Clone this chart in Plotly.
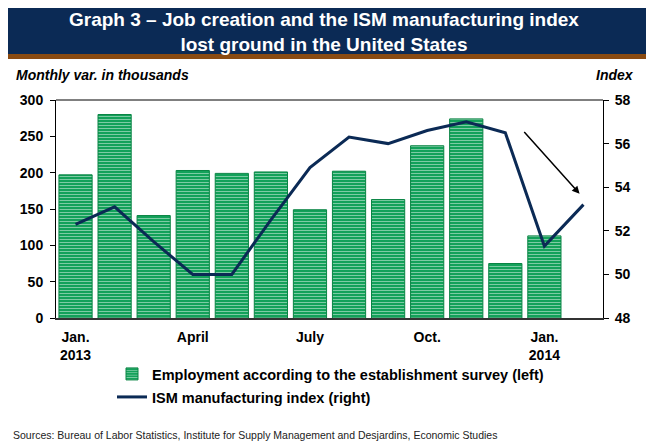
import plotly.graph_objects as go

# ---- data -------------------------------------------------------------
months = ["2013-01", "2013-02", "2013-03", "2013-04", "2013-05", "2013-06",
          "2013-07", "2013-08", "2013-09", "2013-10", "2013-11", "2013-12",
          "2014-01", "2014-02"]
# Nonfarm payroll change, thousands (establishment survey) - Jan 2013 to Jan 2014
employment = [197, 280, 141, 203, 199, 201, 149, 202, 163, 237, 274, 75, 113]
# ISM manufacturing index - Jan 2013 to Feb 2014
ism = [52.3, 53.1, 51.5, 50.0, 50.0, 52.5, 54.9, 56.3, 56.0, 56.6, 57.0, 56.5,
       51.3, 53.2]

tick_months = ["2013-01", "2013-04", "2013-07", "2013-10", "2014-01"]
tick_labels = ["Jan.<br>2013", "April", "July", "Oct.", "Jan.<br>2014"]

# ---- geometry helpers (pixel -> paper) ---------------------------------
W, H = 646, 442
L, R, T, B = 56, 603, 100, 318


def px_x(x):
    return (x - L) / (R - L)


def px_y(y):
    return (B - y) / (B - T)


FONT = "Arial, Liberation Sans, sans-serif"
NAVY = "#0b2a55"
GREEN = "#13a15a"
GREEN_EDGE = "#0a8444"

fig = go.Figure()

fig.add_trace(go.Bar(
    x=months[:len(employment)],
    y=employment,
    name="Employment according to the establishment survey (left)",
    width=0.85,
    marker=dict(
        color=GREEN,
        line=dict(color=GREEN_EDGE, width=1),
        pattern=dict(shape="-", fgcolor="white", bgcolor=GREEN,
                     size=3, solidity=0.3),
    ),
    showlegend=True,
    legend="legend",
))

fig.add_trace(go.Scatter(
    x=months,
    y=ism,
    yaxis="y2",
    mode="lines",
    name="ISM manufacturing index (right)",
    line=dict(color=NAVY, width=3),
    showlegend=True,
    legend="legend2",
))

tick_font = dict(family=FONT, size=14, color="black", weight="bold")
legend_font = dict(family=FONT, size=14.5, color="black", weight="bold")

fig.update_layout(
    width=W, height=H,
    margin=dict(l=L, r=W - R, t=T, b=H - B),
    paper_bgcolor="white",
    plot_bgcolor="white",
    showlegend=True,
    xaxis=dict(
        type="category",
        categoryorder="array",
        categoryarray=months,
        range=[-0.5, len(months) - 0.5],
        tickmode="array",
        tickvals=tick_months,
        ticktext=tick_labels,
        tickfont=tick_font,
        ticks="",
        ticklabelstandoff=5,
        showgrid=False,
        showline=True,
        linecolor="#333333",
        linewidth=1.5,
        zeroline=False,
    ),
    yaxis=dict(
        range=[0, 300],
        dtick=50,
        tickfont=tick_font,
        ticks="outside",
        ticklen=5,
        tickcolor="black",
        ticklabelstandoff=4,
        showgrid=False,
        showline=True,
        linecolor="black",
        linewidth=1,
        zeroline=False,
    ),
    yaxis2=dict(
        overlaying="y",
        side="right",
        range=[48, 58],
        dtick=2,
        tickfont=tick_font,
        ticks="outside",
        ticklen=5,
        tickcolor="black",
        ticklabelstandoff=3,
        showgrid=False,
        showline=True,
        linecolor="black",
        linewidth=1,
        zeroline=False,
    ),
    legend=dict(
        x=px_x(112), y=px_y(374), xanchor="left", yanchor="middle",
        font=legend_font, bgcolor="rgba(0,0,0,0)",
    ),
    legend2=dict(
        x=px_x(112), y=px_y(397), xanchor="left", yanchor="middle",
        font=legend_font, bgcolor="rgba(0,0,0,0)",
    ),
    shapes=[
        # title banner
        dict(type="rect", xref="paper", yref="paper",
             x0=px_x(8), x1=px_x(646), y0=px_y(54), y1=px_y(8),
             fillcolor=NAVY, line=dict(width=0), layer="below"),
        dict(type="rect", xref="paper", yref="paper",
             x0=px_x(8), x1=px_x(646), y0=px_y(59), y1=px_y(54),
             fillcolor="#8a4b12", line=dict(width=0), layer="below"),
        # top border of the plot area
        dict(type="line", xref="paper", yref="paper",
             x0=0, x1=1, y0=1, y1=1, line=dict(color="black", width=1)),
    ],
    annotations=[
        dict(text="Graph 3 – Job creation and the ISM manufacturing index"
                  "<br>lost ground in the United States",
             xref="paper", yref="paper", x=px_x(324), y=px_y(32),
             xanchor="center", yanchor="middle", showarrow=False,
             font=dict(family=FONT, size=19, color="white", weight="bold")),
        dict(text="Monthly var. in thousands",
             xref="paper", yref="paper", x=px_x(14), y=px_y(75),
             xanchor="left", yanchor="middle", showarrow=False,
             font=dict(family=FONT, size=14, color="black",
                       weight="bold", style="italic")),
        dict(text="Index",
             xref="paper", yref="paper", x=px_x(636), y=px_y(75),
             xanchor="right", yanchor="middle", showarrow=False,
             font=dict(family=FONT, size=14, color="black",
                       weight="bold", style="italic")),
        dict(text="Sources: Bureau of Labor Statistics, Institute for Supply "
                  "Management and Desjardins, Economic Studies",
             xref="paper", yref="paper", x=px_x(11), y=px_y(435),
             xanchor="left", yanchor="middle", showarrow=False,
             font=dict(family=FONT, size=10.5, color="#222222")),
        # downward-trend arrow
        dict(x=12.9, y=171, ax=11.45, ay=258,
             xref="x", yref="y", axref="x", ayref="y",
             showarrow=True, arrowhead=2, arrowsize=1, arrowwidth=1.5,
             arrowcolor="black", text=""),
    ],
)

fig.write_html("out.html")
